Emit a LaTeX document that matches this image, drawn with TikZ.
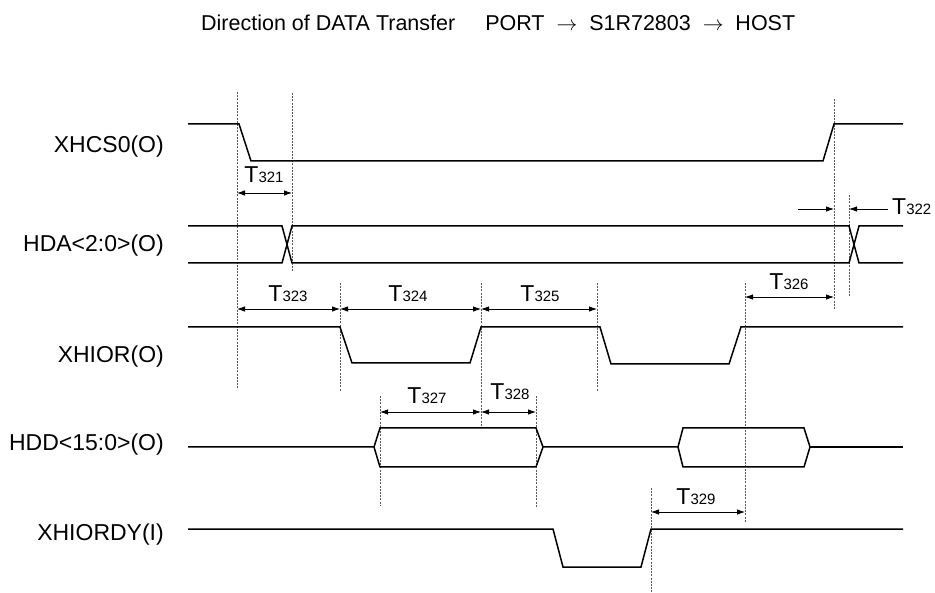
\documentclass[tikz,border=0pt]{standalone}
\usepackage{fontspec}
\setmainfont{Liberation Sans}
\usetikzlibrary{arrows.meta}

\tikzset{
  sig/.style={line width=1.5pt},
  guide/.style={dash pattern=on 2pt off 1.2pt, line width=0.6pt, black!65},
  tip/.style={line width=0.8pt},
  dim/.style={tip, {Latex[length=8pt,width=5.5pt]}-{Latex[length=8pt,width=5.5pt]}},
  lbl/.style={anchor=base east, inner sep=0pt, font=\fontsize{23}{26}\selectfont},
  tlbl/.style={anchor=base, inner sep=0pt, font=\fontsize{23}{26}\selectfont},
}
\newcommand{\Tm}[1]{T{\fontsize{15}{18}\selectfont #1}}

\begin{document}
\begin{tikzpicture}[x=1pt,y=-1pt]
  \useasboundingbox (0,0) rectangle (935,593);

  \node[anchor=base west, inner sep=0pt, font=\fontsize{21.5}{24}\selectfont] (title) at (201,31)
    {Direction of DATA Transfer\hspace{30pt}PORT\ \ $\rightarrow$\ \ S1R72803\ \ $\rightarrow$\ \ HOST};

  % signal names
  \node[lbl] (cs)  at (164,153) {XHCS0(O)};
  \node[lbl] (hda) at (164,252) {HDA<2:0>(O)};
  \node[lbl] (ior) at (164,363) {XHIOR(O)};
  \node[lbl] (hdd) at (164,451) {HDD<15:0>(O)};
  \node[lbl] (rdy) at (164,540) {XHIORDY(I)};

  % dashed timing guides
  \foreach \n/\x/\a/\b in {gA/237/92/388, gB/292/93/272, gC/340/283/391,
      gD/481/283/428, gE/597/283/391, gF/745/283/523, gG/380/396/506,
      gH/536/396/508, gI/651/488/593, gJ/834/99/310, gK/849/195/296}{
    \coordinate (\n) at (\x,\a);
    \draw[guide] (\n) -- (\x,\b);
  }

  % waveforms
  \draw[sig] (188,124) -- (239,124) -- (251,161) -- (823,161) -- (834,124) -- (903,124);
  \draw[sig] (188,226) -- (282,226) -- (292,263) -- (849,263) -- (859,226) -- (903,226);
  \draw[sig] (188,263) -- (282,263) -- (292,226) -- (849,226) -- (859,263) -- (903,263);
  \draw[sig] (188,327) -- (340,327) -- (352,363) -- (470,363) -- (481,327) -- (600,327)
    -- (611,364) -- (729,364) -- (741,327) -- (903,327);
  \draw[sig] (188,447) -- (374,447) -- (380,428) -- (536,428) -- (543,447) -- (678,447);
  \draw[sig] (374,447) -- (380,467) -- (536,467) -- (543,447);
  \draw[sig] (678,447) -- (683,428) -- (804,428) -- (810,447) -- (804,467) -- (683,467) -- cycle;
  \draw[sig] (810,447) -- (903,447);
  \draw[sig] (188,529) -- (553,529) -- (563,567) -- (641,567) -- (651,529) -- (903,529);

  % timing arrows
  \draw[dim] (gA |- 0,193) -- (gB |- 0,193);
  \node[tlbl] (t321) at (264,183) {\Tm{321}};

  \coordinate (t322a) at (798,209);
  \coordinate (t322b) at (888,209);
  \draw[tip,-{Latex[length=8pt,width=5.5pt]}] (t322a) -- (gJ |- t322a);
  \draw[tip,-{Latex[length=8pt,width=5.5pt]}] (t322b) -- (gK |- t322b);
  \node[anchor=base west, inner sep=0pt, font=\fontsize{23}{26}\selectfont] (t322) at (892,215) {\Tm{322}};

  \draw[dim] (gA |- 0,309) -- (gC |- 0,309);
  \draw[dim] (gC |- 0,309) -- (gD |- 0,309);
  \draw[dim] (gD |- 0,309) -- (gE |- 0,309);
  \node[tlbl] (t323) at (288,302) {\Tm{323}};
  \node[tlbl] (t324) at (408,302) {\Tm{324}};
  \node[tlbl] (t325) at (540,302) {\Tm{325}};

  \draw[dim] (gF |- 0,297) -- (gJ |- 0,297);
  \node[tlbl] (t326) at (789,290) {\Tm{326}};

  \draw[dim] (gG |- 0,412) -- (gD |- 0,412);
  \draw[dim] (gD |- 0,412) -- (gH |- 0,412);
  \node[tlbl] (t327) at (427,404) {\Tm{327}};
  \node[tlbl] (t328) at (510,400) {\Tm{328}};

  \draw[dim] (gI |- 0,512) -- (gF |- 0,512);
  \node[tlbl] (t329) at (696,504) {\Tm{329}};
\end{tikzpicture}
\end{document}
